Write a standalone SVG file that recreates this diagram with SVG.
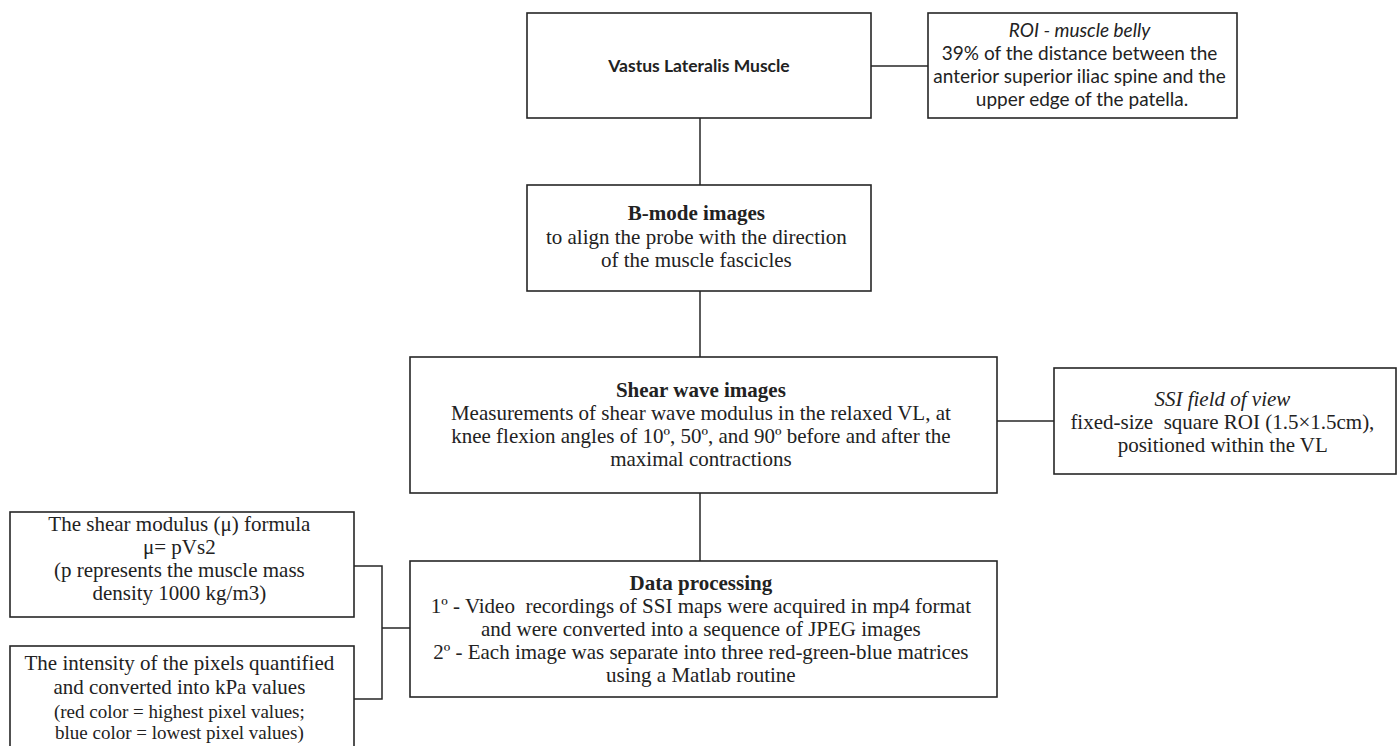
<svg xmlns="http://www.w3.org/2000/svg" width="1400" height="746" viewBox="0 0 1400 746">
<style>
.box{fill:#fff;stroke:#262626;stroke-width:1.6}
.ln{fill:none;stroke:#262626;stroke-width:1.5}
.sans{font-family:Lato,"Liberation Sans","Open Sans",sans-serif;fill:#222;text-anchor:middle}
.ser{font-family:"Liberation Serif","DejaVu Serif","Times New Roman",serif;fill:#222;text-anchor:middle;font-size:21px;white-space:pre}
.b{font-weight:bold}
.i{font-style:italic}
.sm{font-size:19px}
</style>
<rect width="1400" height="746" fill="#fff"/>
<g id="connectors">
<line class="ln" x1="700" y1="118" x2="700" y2="185"/>
<line class="ln" x1="700" y1="291" x2="700" y2="357"/>
<line class="ln" x1="700" y1="493" x2="700" y2="561"/>
<line class="ln" x1="871" y1="66" x2="928" y2="66"/>
<line class="ln" x1="997" y1="421" x2="1054" y2="421"/>
<polyline class="ln" points="354,566 382,566 382,699 354,699"/>
<line class="ln" x1="382" y1="628" x2="410" y2="628"/>
</g>
<g id="vastus">
<rect class="box" x="527" y="13" width="344" height="105"/>
<text class="sans b" x="699" y="72" font-size="17.5">Vastus Lateralis Muscle</text>
</g>
<g id="roi">
<rect class="box" x="928" y="13" width="309" height="105"/>
<text class="sans" font-size="19" x="1082">
<tspan class="i" x="1082" y="37">ROI - muscle belly</tspan>
<tspan x="1082" y="60">39% of the distance between the</tspan>
<tspan x="1082" y="83">anterior superior iliac spine and the</tspan>
<tspan x="1082" y="106">upper edge of the patella.</tspan>
</text>
</g>
<g id="bmode">
<rect class="box" x="527" y="185" width="344" height="106"/>
<text class="ser" x="699">
<tspan class="b" x="699" y="220">B-mode images</tspan>
<tspan x="699" y="244">to align the probe with the direction</tspan>
<tspan x="699" y="267">of the muscle fascicles</tspan>
</text>
</g>
<g id="shear">
<rect class="box" x="410" y="357" width="587" height="136"/>
<text class="ser" x="703.5">
<tspan class="b" x="703.5" y="397">Shear wave images</tspan>
<tspan x="703.5" y="420">Measurements of shear wave modulus in the relaxed VL, at</tspan>
<tspan x="703.5" y="443">knee flexion angles of 10º, 50º, and 90º before and after the</tspan>
<tspan x="703.5" y="466">maximal contractions</tspan>
</text>
</g>
<g id="ssi">
<rect class="box" x="1054" y="368" width="342" height="106"/>
<text class="ser" x="1225">
<tspan class="i" x="1225" y="406">SSI field of view</tspan>
<tspan x="1225" y="429">fixed-size  square ROI (1.5×1.5cm),</tspan>
<tspan x="1225" y="452">positioned within the VL</tspan>
</text>
</g>
<g id="data">
<rect class="box" x="410" y="561" width="587" height="136"/>
<text class="ser" x="703.5">
<tspan class="b" x="703.5" y="590">Data processing</tspan>
<tspan x="703.5" y="613">1º - Video  recordings of SSI maps were acquired in mp4 format</tspan>
<tspan x="703.5" y="636">and were converted into a sequence of JPEG images</tspan>
<tspan x="703.5" y="659">2º - Each image was separate into three red-green-blue matrices</tspan>
<tspan x="703.5" y="682">using a Matlab routine</tspan>
</text>
</g>
<g id="formula">
<rect class="box" x="10" y="512" width="344" height="105"/>
<text class="ser" x="182">
<tspan x="182" y="531">The shear modulus (μ) formula</tspan>
<tspan x="182" y="554">μ= pVs2</tspan>
<tspan x="182" y="577">(p represents the muscle mass</tspan>
<tspan x="182" y="600">density 1000 kg/m3)</tspan>
</text>
</g>
<g id="intensity">
<rect class="box" x="10" y="646" width="344" height="110"/>
<text class="ser" x="182">
<tspan x="182" y="670">The intensity of the pixels quantified</tspan>
<tspan x="182" y="694">and converted into kPa values</tspan>
<tspan class="sm" x="182" y="718">(red color = highest pixel values;</tspan>
<tspan class="sm" x="182" y="739">blue color = lowest pixel values)</tspan>
</text>
</g>
</svg>
